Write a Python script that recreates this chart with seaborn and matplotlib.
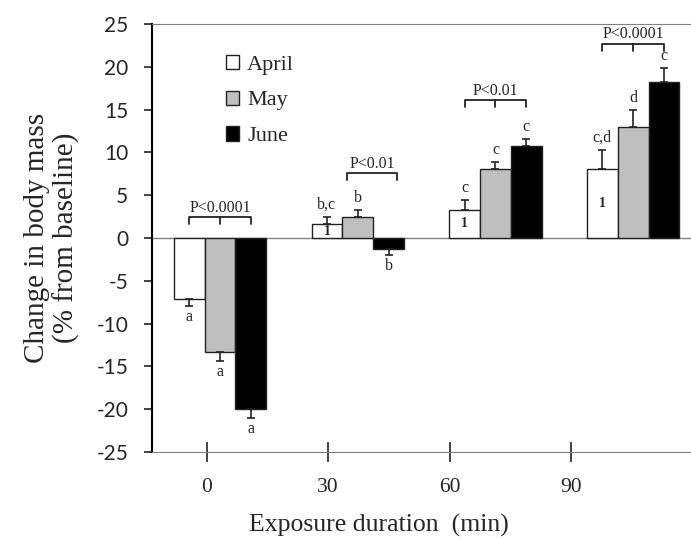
import matplotlib
matplotlib.use('Agg')
import matplotlib.pyplot as plt
import numpy as np
import pandas as pd
import seaborn as sns

durations = ['0', '30', '60', '90']
months = ['April', 'May', 'June']
april = [-7.1, 1.6, 3.3, 8.1]
may = [-13.3, 2.45, 8.05, 13.0]
june = [-20.0, -1.25, 10.8, 18.2]
april_err = [0.8, 0.9, 1.1, 2.2]
may_err = [1.1, 0.8, 0.85, 1.9]
june_err = [1.0, 0.75, 0.8, 1.7]
april_letters = ['a', 'b,c', 'c', 'c,d']
may_letters = ['a', 'b', 'c', 'd']
june_letters = ['a', 'b', 'c', 'c']
april_inner = ['', '1', '1', '1']
p_texts = ['P<0.0001', 'P<0.01', 'P<0.01', 'P<0.0001']
bracket_y = [2.45, 7.55, 16.1, 22.7]
xtick_labels = ['0', '30', '60', '90']
yticks = list(range(-25, 30, 5))

colors = ['white', '#c0bfbf', 'black']
serif = 'Liberation Serif'

sns.set_style('white')
plt.rcParams['font.family'] = serif

df = pd.DataFrame({
    'duration': durations * 3,
    'month': sum([[m] * 4 for m in months], []),
    'change': april + may + june,
})
errs = [april_err, may_err, june_err]
letters = [april_letters, may_letters, june_letters]

fig = plt.figure(figsize=(6.91, 5.40), dpi=100)
ax = fig.add_axes([0.22, 0.163, 0.78, 0.7926])

sns.barplot(data=df, x='duration', y='change', hue='month', order=durations,
            hue_order=months, palette=colors, width=0.67, edgecolor='#222222',
            linewidth=1.0, errorbar=None, ax=ax, zorder=3)

bar_groups = list(ax.containers)
for k, cont in enumerate(bar_groups):
    for i, bar in enumerate(cont):
        xc = bar.get_x() + bar.get_width() / 2
        h = bar.get_height()
        e = errs[k][i]
        if h >= 0:
            yerr = [[0], [e]]
            ax.text(xc, h + e + 1.4, letters[k][i], ha='center', va='center',
                    fontsize=11.5)
        else:
            yerr = [[e], [0]]
            ax.text(xc, h - e - 1.3, letters[k][i], ha='center', va='center',
                    fontsize=11.5)
        ax.errorbar(xc, h, yerr=yerr, color='#222222', capsize=3.0,
                    elinewidth=1.2, capthick=1.2, zorder=4)
        if k == 0 and april_inner[i]:
            ax.text(xc, h / 2, april_inner[i], ha='center', va='center',
                    fontsize=10, fontweight='bold', zorder=5)

# significance brackets
for i in range(4):
    if i == 1:
        x0, x1, mid = i - 0.075, i + 0.288, False
    else:
        x0, x1, mid = i - 0.223, i + 0.223, True
    y = bracket_y[i]
    drop = 0.8
    ax.plot([x0, x0, x1, x1], [y - drop, y, y, y - drop], color='#222222',
            lw=1.3, zorder=4)
    if mid:
        ax.plot([i, i], [y, y - drop], color='#222222', lw=1.3, zorder=4)
    ax.text((x0 + x1) / 2, y + 1.1, p_texts[i], ha='center', va='center',
            fontsize=11.5)

ax.axhline(0, color='#808080', lw=1.0, zorder=2)

ax.set_xlim(-0.494, 3.42)
ax.set_ylim(-25, 25)
ax.set_yticks(yticks)
ax.set_yticklabels([str(t) for t in yticks], fontfamily='Lato', fontsize=15)
ax.set_xticks([-0.097 + i * 0.882 for i in range(4)])
ax.set_xticklabels(xtick_labels, fontsize=15.5)
ax.tick_params(axis='x', direction='inout', length=15, width=1.2,
               color='#222222', pad=11, bottom=True)
ax.tick_params(axis='y', direction='out', length=6, width=1.2,
               color='#222222', pad=11, left=True)

ax.spines['left'].set_color('black')
ax.spines['left'].set_linewidth(1.5)
ax.spines['bottom'].set_color('#808080')
ax.spines['top'].set_color('#808080')
ax.spines['right'].set_visible(False)

ax.set_xlabel('Exposure duration  (min)', fontsize=18.5)
ax.xaxis.set_label_coords(0.421, -0.145)
ax.set_ylabel('Change in body mass\n(% from baseline)', fontsize=21,
              labelpad=12, linespacing=1.1)

ax.legend(loc='upper left', bbox_to_anchor=(0.1, 0.975), frameon=False,
          fontsize=16, handlelength=0.6, handleheight=0.6, handletextpad=0.35,
          labelspacing=0.72)

fig.savefig('out.png', dpi=100)
